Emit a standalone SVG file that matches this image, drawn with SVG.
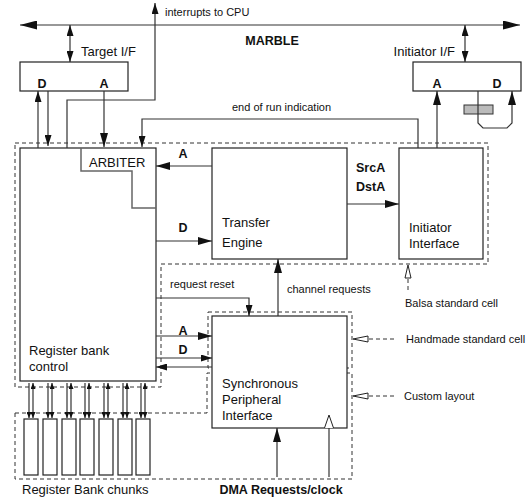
<svg xmlns="http://www.w3.org/2000/svg" width="530" height="500" viewBox="0 0 530 500">
<style>
  text { font-family: "Liberation Sans", Arial, sans-serif; fill: #111; }
  .lbl { font-size: 13px; }
  .sm { font-size: 11px; }
  .b { font-weight: bold; font-size: 12.5px; }
  .box { fill: #fff; stroke: #222; stroke-width: 1.2; }
  .region { fill: none; stroke: #333; stroke-width: 1; stroke-dasharray: 4,3; }
  .ln { fill: none; stroke: #333; stroke-width: 1.2; }
  .gl { fill: none; stroke: #666; stroke-width: 1.5; }
  .dl { fill: none; stroke: #333; stroke-width: 1; stroke-dasharray: 4,3; }
  .hollow { fill: #fff; stroke: #222; stroke-width: 1; }
</style>
<defs>
  <marker id="ah" markerWidth="14" markerHeight="8" refX="14" refY="4" orient="auto-start-reverse" markerUnits="userSpaceOnUse">
    <path d="M0,0 L14,4 L0,8 z" fill="#111"/>
  </marker>
  <marker id="ahs" markerWidth="11" markerHeight="7" refX="11" refY="3.5" orient="auto-start-reverse" markerUnits="userSpaceOnUse">
    <path d="M0,0 L11,3.5 L0,7 z" fill="#111"/>
  </marker>
  <marker id="ahb" markerWidth="17" markerHeight="9" refX="17" refY="4.5" orient="auto-start-reverse" markerUnits="userSpaceOnUse">
    <path d="M0,0 L17,4.5 L0,9 z" fill="#111"/>
  </marker>
  <marker id="aht" markerWidth="6" markerHeight="5" refX="6" refY="2.5" orient="auto-start-reverse" markerUnits="userSpaceOnUse">
    <path d="M0,0 L6,2.5 L0,5 z" fill="#111"/>
  </marker>
</defs>

<!-- regions -->
<g id="regions">
  <path class="region" d="M15,143 H488 V264 H161 V387 H15 Z"/>
  <path class="region" d="M208,312 H352 V368 H208 Z"/>
  <path class="region" d="M15,413 H207 V373 H352 V479 H15 Z"/>
</g>

<!-- nodes -->
<g id="target-if">
  <rect class="box" x="20" y="62" width="108" height="29"/>
  <text class="b" x="42" y="88" text-anchor="middle">D</text>
  <text class="b" x="104" y="88" text-anchor="middle">A</text>
</g>
<g id="initiator-if">
  <rect class="box" x="413" y="62" width="108" height="29"/>
  <text class="b" x="437" y="88" text-anchor="middle">A</text>
  <text class="b" x="497" y="88" text-anchor="middle">D</text>
  <rect x="464" y="105" width="29" height="9" fill="#bbb" stroke="#333" stroke-width="1"/>
</g>
<g id="register-bank">
  <rect class="box" x="20" y="148" width="136" height="233"/>
  <text class="lbl" x="29" y="355">Register bank</text>
  <text class="lbl" x="29" y="371">control</text>
</g>
<g id="arbiter">
  <path class="gl" d="M81,148 V171 H132 V208 H156"/>
  <text class="lbl" x="89" y="167">ARBITER</text>
</g>
<g id="transfer-engine">
  <rect class="box" x="212" y="148" width="135" height="111"/>
  <text class="lbl" x="222" y="227">Transfer</text>
  <text class="lbl" x="222" y="247">Engine</text>
</g>
<g id="initiator-interface">
  <rect class="box" x="399" y="148" width="84" height="111"/>
  <text class="lbl" x="409" y="232">Initiator</text>
  <text class="lbl" x="409" y="248">Interface</text>
</g>
<g id="spi">
  <rect class="box" x="212" y="316" width="135" height="112"/>
  <text class="lbl" x="222" y="388">Synchronous</text>
  <text class="lbl" x="222" y="404">Peripheral</text>
  <text class="lbl" x="222" y="420">Interface</text>
</g>
<g id="chunks">
  <rect class="box" x="24" y="419" width="14" height="56"/>
  <rect class="box" x="43" y="419" width="14" height="56"/>
  <rect class="box" x="62" y="419" width="14" height="56"/>
  <rect class="box" x="80" y="419" width="14" height="56"/>
  <rect class="box" x="99" y="419" width="14" height="56"/>
  <rect class="box" x="118" y="419" width="14" height="56"/>
  <rect class="box" x="136" y="419" width="14" height="56"/>
</g>

<!-- connectors -->
<g id="connectors">
  <line class="ln" x1="20" y1="25" x2="520" y2="25" stroke-width="2" marker-start="url(#ahb)" marker-end="url(#ahb)"/>
  <line class="ln" x1="70" y1="25" x2="70" y2="62" marker-start="url(#ahs)" marker-end="url(#ahs)"/>
  <line class="ln" x1="465" y1="25" x2="465" y2="62" marker-start="url(#ahs)" marker-end="url(#ahs)"/>
  <polyline class="ln" points="67,148 67,100 155,100 155,3" marker-end="url(#ahs)"/>
  <line class="ln" x1="38" y1="148" x2="38" y2="91" marker-end="url(#ahs)"/>
  <line class="ln" x1="48" y1="91" x2="48" y2="146" marker-end="url(#ahs)"/>
  <line class="ln" x1="104" y1="91" x2="104" y2="147" marker-end="url(#ah)"/>
  <polyline class="ln" points="418,148 418,119 142,119 142,147" marker-end="url(#ahs)"/>
  <line class="ln" x1="437" y1="148" x2="437" y2="91" marker-end="url(#ah)"/>
  <polyline class="ln" points="478,91 478,123 483,128 507,128 512,123 512,91" marker-end="url(#ah)"/>
  <line class="ln" x1="212" y1="166" x2="156" y2="166" marker-end="url(#ah)"/>
  <line class="ln" x1="156" y1="241" x2="212" y2="241" marker-end="url(#ah)"/>
  <line class="ln" x1="347" y1="204" x2="399" y2="204" marker-end="url(#ah)"/>
  <line class="ln" x1="278" y1="316" x2="278" y2="259" marker-end="url(#ah)"/>
  <polyline class="ln" points="156,298 249,298 249,316" marker-end="url(#ahs)"/>
  <line class="ln" x1="156" y1="336" x2="212" y2="336" marker-end="url(#ah)"/>
  <line class="ln" x1="156" y1="358" x2="212" y2="358" marker-end="url(#ahs)"/>
  <line class="ln" x1="212" y1="367" x2="156" y2="367" marker-end="url(#ahs)"/>
  <line class="ln" x1="277" y1="477" x2="277" y2="428" marker-end="url(#ah)"/>
  <line class="ln" x1="329" y1="477" x2="329" y2="428"/>
  <polyline class="hollow" points="324.5,428 329,415 333.5,428" fill="none"/>
  <!-- chunk links -->
  <g>
    <line class="ln" x1="29" y1="383" x2="29" y2="418" marker-end="url(#aht)"/>
    <line class="ln" x1="33" y1="418" x2="33" y2="383" marker-start="url(#aht)" marker-end="url(#aht)"/>
    <line class="ln" x1="48" y1="383" x2="48" y2="418" marker-end="url(#aht)"/>
    <line class="ln" x1="52" y1="418" x2="52" y2="383" marker-start="url(#aht)" marker-end="url(#aht)"/>
    <line class="ln" x1="67" y1="383" x2="67" y2="418" marker-end="url(#aht)"/>
    <line class="ln" x1="71" y1="418" x2="71" y2="383" marker-start="url(#aht)" marker-end="url(#aht)"/>
    <line class="ln" x1="85" y1="383" x2="85" y2="418" marker-end="url(#aht)"/>
    <line class="ln" x1="89" y1="418" x2="89" y2="383" marker-start="url(#aht)" marker-end="url(#aht)"/>
    <line class="ln" x1="104" y1="383" x2="104" y2="418" marker-end="url(#aht)"/>
    <line class="ln" x1="108" y1="418" x2="108" y2="383" marker-start="url(#aht)" marker-end="url(#aht)"/>
    <line class="ln" x1="123" y1="383" x2="123" y2="418" marker-end="url(#aht)"/>
    <line class="ln" x1="127" y1="418" x2="127" y2="383" marker-start="url(#aht)" marker-end="url(#aht)"/>
    <line class="ln" x1="141" y1="383" x2="141" y2="418" marker-end="url(#aht)"/>
    <line class="ln" x1="145" y1="418" x2="145" y2="383" marker-start="url(#aht)" marker-end="url(#aht)"/>
  </g>
  <!-- legend pointers -->
  <polygon class="hollow" points="408,265 405,278 411,278"/>
  <line class="dl" x1="408" y1="279" x2="408" y2="293"/>
  <polygon class="hollow" points="353,339 368,336 368,342"/>
  <line class="dl" x1="369" y1="339" x2="396" y2="339"/>
  <polygon class="hollow" points="353,396 368,393 368,399"/>
  <line class="dl" x1="369" y1="396" x2="396" y2="396"/>
</g>

<!-- labels -->
<g id="labels">
  <text class="sm" x="165" y="16">interrupts to CPU</text>
  <text class="b" x="272" y="45" text-anchor="middle" font-size="13">MARBLE</text>
  <text class="lbl" x="81" y="56">Target I/F</text>
  <text class="lbl" x="455" y="56" text-anchor="end">Initiator I/F</text>
  <text class="sm" x="232" y="111">end of run indication</text>
  <text class="b" x="183" y="158" text-anchor="middle">A</text>
  <text class="b" x="183" y="232" text-anchor="middle">D</text>
  <text class="b" x="356" y="172">SrcA</text>
  <text class="b" x="356" y="191">DstA</text>
  <text class="sm" x="170" y="288">request reset</text>
  <text class="sm" x="287" y="293">channel requests</text>
  <text class="b" x="183" y="335" text-anchor="middle">A</text>
  <text class="b" x="183" y="354" text-anchor="middle">D</text>
  <text class="sm" x="405" y="307">Balsa standard cell</text>
  <text class="sm" x="406" y="343">Handmade standard cell</text>
  <text class="sm" x="404" y="400">Custom layout</text>
  <text class="lbl" x="22" y="494">Register Bank chunks</text>
  <text class="b" x="281" y="494" text-anchor="middle">DMA Requests/clock</text>
</g>
</svg>
